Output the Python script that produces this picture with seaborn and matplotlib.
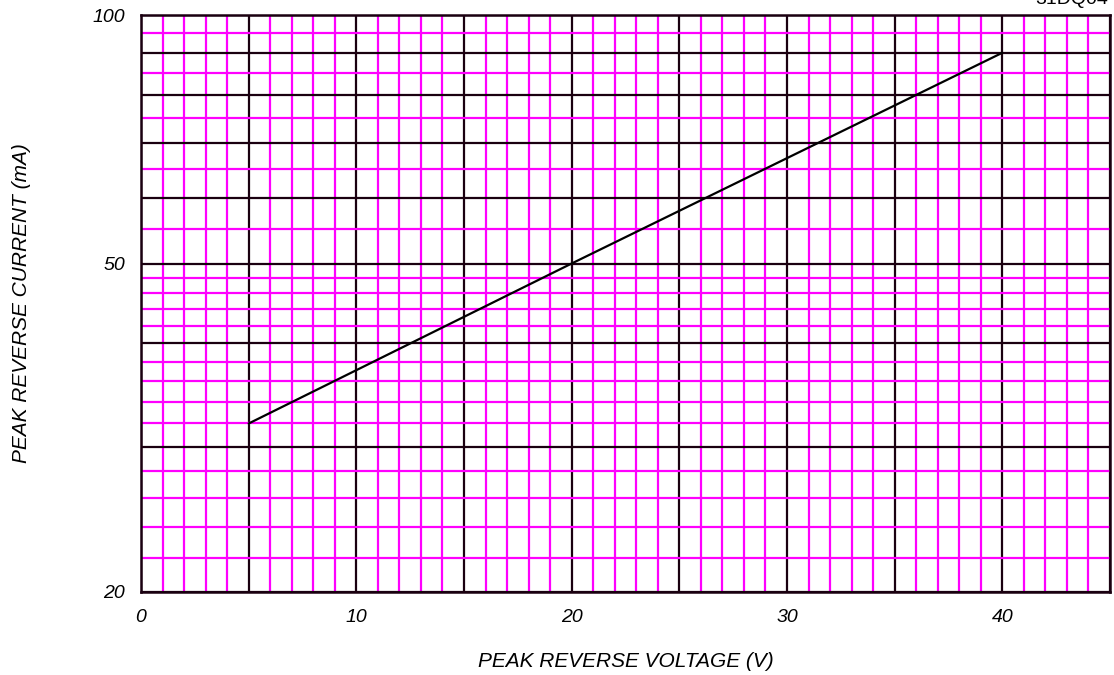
import matplotlib
matplotlib.use("Agg")
import matplotlib.pyplot as plt
import seaborn as sns
import pandas as pd
from matplotlib.ticker import FixedLocator, FixedFormatter

# ---- data ----
voltage = [5, 20, 40]          # V
current = [32, 50, 90]         # mA

x_major = [0, 5, 10, 15, 20, 25, 30, 35, 40, 45]
x_labels = ["0", "", "10", "", "20", "", "30", "", "40", ""]
x_minor = [v for v in range(0, 46) if v % 5 != 0]

y_major = [20, 30, 40, 50, 60, 70, 80, 90, 100]
y_labels = ["20", "", "", "50", "", "", "", "", "100"]
y_minor = [22, 24, 26, 28, 32, 34, 36, 38, 42, 44, 46, 48, 55, 65, 75, 85, 95]

title_text = "31DQ04"
xlabel_text = "PEAK REVERSE VOLTAGE (V)"
ylabel_text = "PEAK REVERSE CURRENT (mA)"

sns.set_theme(style="white")
plt.rcParams["font.family"] = ["Liberation Sans", "DejaVu Sans"]
plt.rcParams["text.color"] = "black"
plt.rcParams["axes.labelcolor"] = "black"
plt.rcParams["xtick.color"] = "black"
plt.rcParams["ytick.color"] = "black"

df = pd.DataFrame({"V": voltage, "I": current})

fig = plt.figure(figsize=(11.14, 6.75), dpi=100)
ax = fig.add_axes([141 / 1114, 1 - 592 / 675, (1110 - 141) / 1114, (592 - 15) / 675])

sns.lineplot(data=df, x="V", y="I", ax=ax, color="black", linewidth=1.6, zorder=5)

ax.set_yscale("log")
ax.set_xlim(0, 45)
ax.set_ylim(20, 100)

ax.xaxis.set_major_locator(FixedLocator(x_major))
ax.xaxis.set_major_formatter(FixedFormatter(x_labels))
ax.xaxis.set_minor_locator(FixedLocator(x_minor))
ax.yaxis.set_major_locator(FixedLocator(y_major))
ax.yaxis.set_major_formatter(FixedFormatter(y_labels))
ax.yaxis.set_minor_locator(FixedLocator(y_minor))
ax.yaxis.set_minor_formatter(FixedFormatter([""] * len(y_minor)))

ax.grid(which="minor", color="#ff00ff", linewidth=1.6, zorder=1)
ax.grid(which="major", color="#1a0010", linewidth=1.6, zorder=2)
ax.set_axisbelow(True)

ax.tick_params(which="both", length=0)
ax.tick_params(axis="x", pad=12, labelsize=14)
ax.tick_params(axis="y", pad=11.5, labelsize=14)
for lbl in ax.get_xticklabels() + ax.get_yticklabels():
    lbl.set_fontstyle("italic")

for s in ax.spines.values():
    s.set_color("#1a0010")
    s.set_linewidth(1.8)
    s.set_visible(True)

ax.set_xlabel(xlabel_text, fontsize=15, fontstyle="italic", labelpad=19)
ax.set_ylabel(ylabel_text, fontsize=15, fontstyle="italic")
ax.yaxis.set_label_coords((31 - 141) / 969, 0.5)

fig.text(1108 / 1114, 1 - 4 / 675, title_text, ha="right", va="baseline", fontsize=14)

fig.savefig("out.png", dpi=100)
